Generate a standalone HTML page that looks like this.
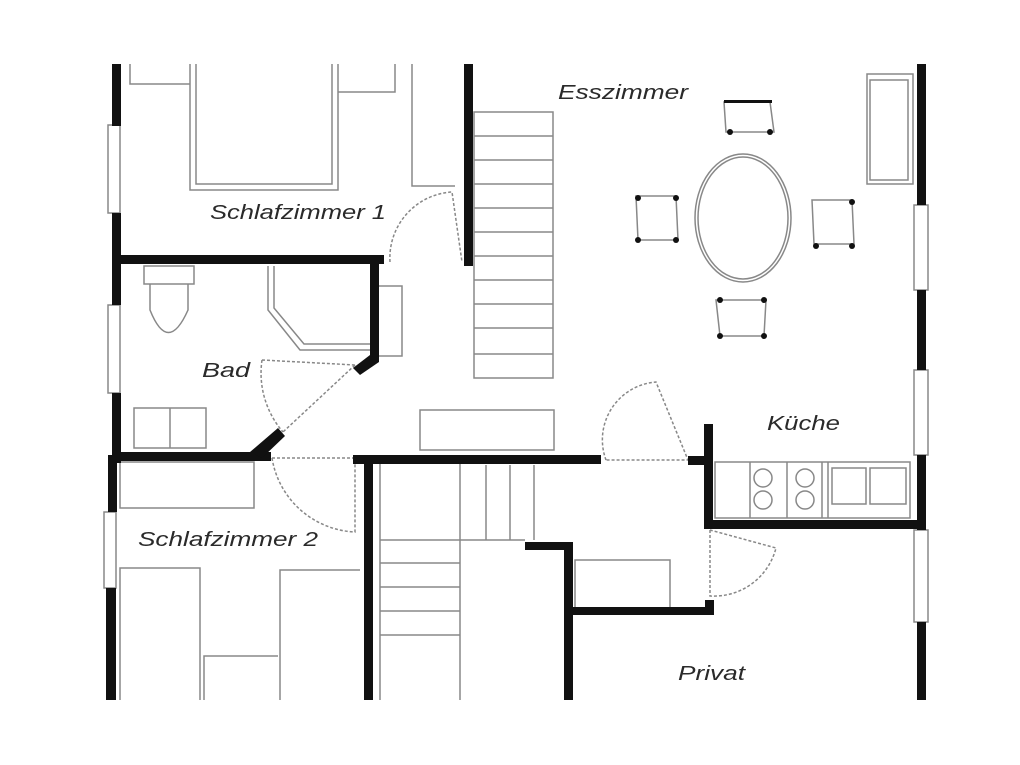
<!DOCTYPE html>
<html><head><meta charset="utf-8"><style>
html,body{margin:0;padding:0;background:#fff}
svg{display:block}
text{font-family:"Liberation Sans",sans-serif;font-style:italic;fill:#2a2a2a;font-size:20px}
</style></head><body>
<svg width="1020" height="765" viewBox="0 0 1020 765" xmlns="http://www.w3.org/2000/svg">
<rect width="1020" height="765" fill="#fff"/>
<g fill="none" stroke="#888" stroke-width="1.5">
<rect x="108" y="125" width="12" height="88"/>
<rect x="108" y="305" width="12" height="88"/>
<rect x="104" y="512" width="12" height="76"/>
<rect x="914" y="205" width="14" height="85"/>
<rect x="914" y="370" width="14" height="85"/>
<rect x="914" y="530" width="14" height="92"/>
<path d="M130 64 V84 H190 M190 64 V190 H338 V64 M196 64 V184 H332 V64 M338 92 H395 V64"/>
<path d="M412 64 V186 H455"/>
<rect x="474" y="112" width="79" height="266"/>
<path d="M474 136H553M474 160H553M474 184H553M474 208H553M474 232H553M474 256H553M474 280H553M474 304H553M474 328H553M474 354H553"/>
<path d="M390 262 A66 66 0 0 1 452 192 L462 262" stroke-dasharray="3 2"/>
<rect x="144" y="266" width="50" height="18"/>
<path d="M150 284 V310 Q168 355 188 310 V284"/>
<path d="M268 266 V310 L300 350 H370 M274 266 V308 L304 344 H370"/>
<rect x="378" y="286" width="24" height="70"/>
<rect x="134" y="408" width="72" height="40"/>
<path d="M170 408V448"/>
<path d="M355 365 L283 432 M262 360 A90 90 0 0 0 283 432 M262 360 L355 365" stroke-dasharray="3 2"/>
<rect x="420" y="410" width="134" height="40"/>
<rect x="120" y="462" width="134" height="46"/>
<path d="M272 458 H355 M272 458 A88 88 0 0 0 355 532 V458" stroke-dasharray="3 2"/>
<path d="M120 700 V568 H200 V700 M280 700 V570 H360 M204 700 V656 H278"/>
<path d="M380 463 V700 M460 463 V700 M380 540H460M380 563H460M380 587H460M380 611H460M380 635H460"/>
<path d="M486 465V540 M510 465V540 M534 465V540 M460 540 H525"/>
<rect x="575" y="560" width="95" height="48"/>
<path d="M606 460 A58 58 0 0 1 656 382 L688 460 H606" stroke-dasharray="3 2"/>
<path d="M710 530 V596 A64 64 0 0 0 776 548 L710 530" stroke-dasharray="3 2"/>
<rect x="715" y="462" width="195" height="56"/>
<path d="M750 462V518M787 462V518M822 462V518M828 462V518"/>
<circle cx="763" cy="478" r="9"/><circle cx="763" cy="500" r="9"/>
<circle cx="805" cy="478" r="9"/><circle cx="805" cy="500" r="9"/>
<rect x="832" y="468" width="34" height="36"/><rect x="870" y="468" width="36" height="36"/>
<rect x="867" y="74" width="46" height="110"/>
<rect x="870" y="80" width="38" height="100"/>
<ellipse cx="743" cy="218" rx="48" ry="64"/>
<ellipse cx="743" cy="218" rx="45" ry="61"/>
<path d="M724 102 H770 L774 132 H726 Z M636 196 H676 L678 240 H638 Z M812 200 H852 L854 244 H814 Z M716 300 H766 L764 336 H720 Z"/>
</g>
<g fill="#111">
<circle cx="730" cy="132" r="3"/><circle cx="770" cy="132" r="3"/>
<circle cx="638" cy="198" r="3"/><circle cx="676" cy="198" r="3"/><circle cx="638" cy="240" r="3"/><circle cx="676" cy="240" r="3"/>
<circle cx="816" cy="246" r="3"/><circle cx="852" cy="246" r="3"/><circle cx="852" cy="202" r="3"/>
<circle cx="720" cy="300" r="3"/><circle cx="764" cy="300" r="3"/><circle cx="720" cy="336" r="3"/><circle cx="764" cy="336" r="3"/>
<rect x="724" y="100" width="48" height="3"/>
<rect x="112" y="64" width="9" height="62"/>
<rect x="112" y="213" width="9" height="92"/>
<rect x="112" y="393" width="9" height="70"/>
<rect x="108" y="455" width="9" height="57"/>
<rect x="106" y="588" width="10" height="112"/>
<rect x="118" y="255" width="266" height="9"/>
<rect x="370" y="262" width="9" height="100"/>
<polygon points="370,355 379,362 360,375 353,368"/>
<rect x="464" y="64" width="9" height="202"/>
<rect x="116" y="452" width="155" height="9"/>
<polygon points="250,452 262,458 285,436 278,428"/>
<rect x="353" y="455" width="248" height="9"/>
<rect x="688" y="456" width="22" height="9"/>
<rect x="364" y="460" width="9" height="240"/>
<rect x="704" y="424" width="9" height="104"/>
<rect x="704" y="520" width="218" height="9"/>
<rect x="917" y="64" width="9" height="141"/>
<rect x="917" y="290" width="9" height="80"/>
<rect x="917" y="455" width="9" height="75"/>
<rect x="917" y="622" width="9" height="78"/>
<rect x="525" y="542" width="48" height="8"/>
<rect x="564" y="542" width="9" height="158"/>
<rect x="568" y="607" width="146" height="8"/>
<rect x="705" y="600" width="9" height="15"/>
</g>
<text x="210" y="219" textLength="176" lengthAdjust="spacingAndGlyphs">Schlafzimmer 1</text>
<text x="202" y="377" textLength="48" lengthAdjust="spacingAndGlyphs">Bad</text>
<text x="558" y="99" textLength="130" lengthAdjust="spacingAndGlyphs">Esszimmer</text>
<text x="767" y="430" textLength="73" lengthAdjust="spacingAndGlyphs">Küche</text>
<text x="138" y="546" textLength="180" lengthAdjust="spacingAndGlyphs">Schlafzimmer 2</text>
<text x="678" y="680" textLength="67" lengthAdjust="spacingAndGlyphs">Privat</text>
</svg>
</body></html>
